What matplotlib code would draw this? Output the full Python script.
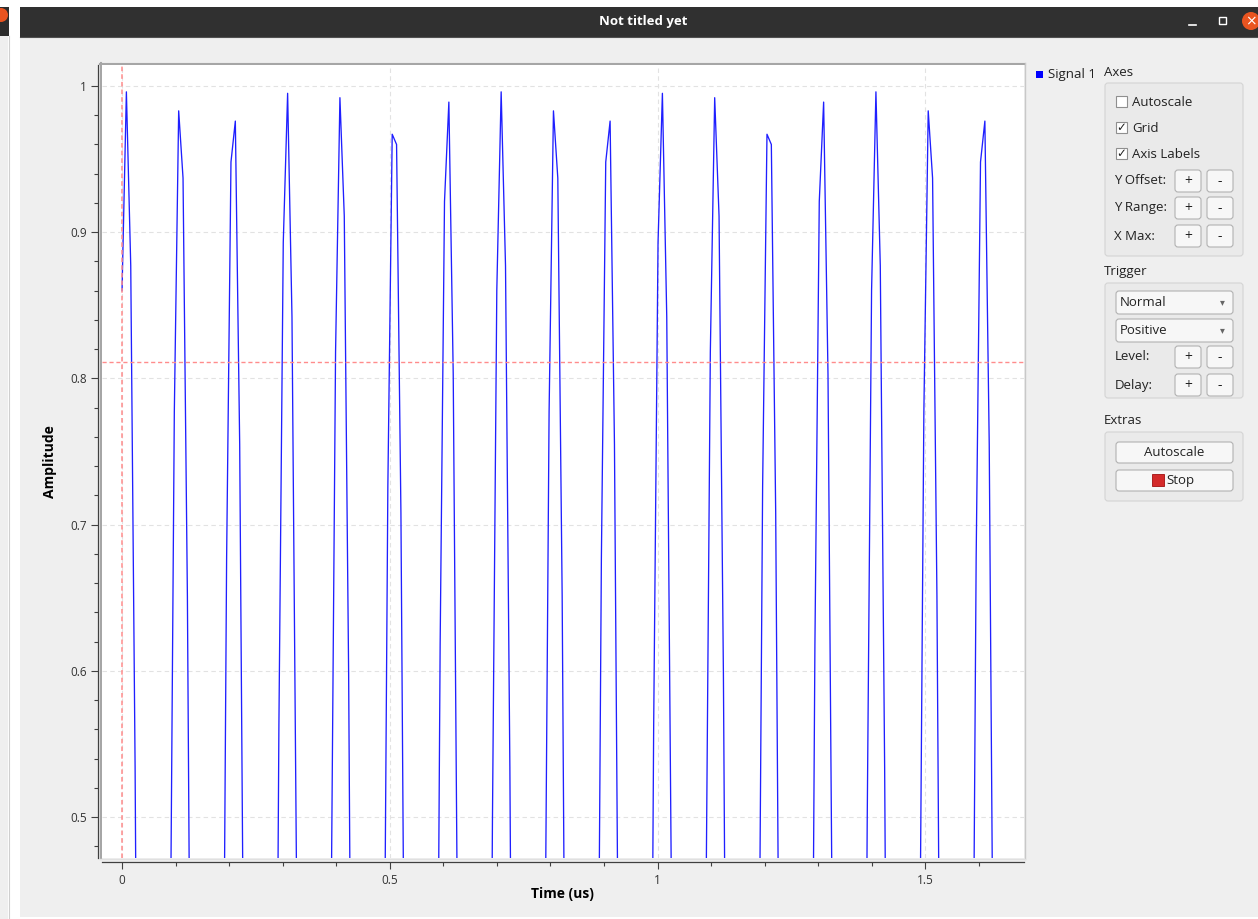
import numpy as np
import matplotlib
matplotlib.use('Agg')
import matplotlib.pyplot as plt
from matplotlib.patches import Rectangle, FancyBboxPatch, Circle
from matplotlib.ticker import MultipleLocator

plt.rcParams['font.family'] = ['Open Sans', 'DejaVu Sans']

# Signal 1 samples (fs = 122.88 MHz)
amp = [0.860, 0.996, 0.877, 0.534, 0.054, -0.440, -0.821, -0.992, -0.909, -0.594,
       -0.127, 0.373, 0.777, 0.983, 0.937, 0.651, 0.199, -0.304, -0.729, -0.968,
       -0.959, -0.705, -0.271, 0.233, 0.677, 0.948, 0.976, 0.755, 0.340, -0.161,
       -0.622, -0.923, -0.988, -0.801, -0.408, 0.089, 0.563, 0.893, 0.995, 0.842,
       0.474, -0.015, -0.501, -0.858, -0.996, -0.879, -0.537, -0.058, 0.436, 0.818,
       0.992, 0.911, 0.598, 0.131, -0.369, -0.775, -0.982, -0.938, -0.655, -0.203,
       0.300, 0.726, 0.967, 0.960, 0.708, 0.274, -0.229, -0.674, -0.947, -0.977,
       -0.757, -0.344, 0.157, 0.618, 0.921, 0.989, 0.803, 0.412, -0.085, -0.559,
       -0.891, -0.995, -0.844, -0.477, 0.011, 0.497,
       0.860, 0.996, 0.877, 0.534, 0.054, -0.440, -0.821, -0.992, -0.909, -0.594,
       -0.127, 0.373, 0.777, 0.983, 0.937, 0.651, 0.199, -0.304, -0.729, -0.968,
       -0.959, -0.705, -0.271, 0.233, 0.677, 0.948, 0.976, 0.755, 0.340, -0.161,
       -0.622, -0.923, -0.988, -0.801, -0.408, 0.089, 0.563, 0.893, 0.995, 0.842,
       0.474, -0.015, -0.501, -0.858, -0.996, -0.879, -0.537, -0.058, 0.436, 0.818,
       0.992, 0.911, 0.598, 0.131, -0.369, -0.775, -0.982, -0.938, -0.655, -0.203,
       0.300, 0.726, 0.967, 0.960, 0.708, 0.274, -0.229, -0.674, -0.947, -0.977,
       -0.757, -0.344, 0.157, 0.618, 0.921, 0.989, 0.803, 0.412, -0.085, -0.559,
       -0.891, -0.995, -0.844, -0.477, 0.011, 0.497,
       0.860, 0.996, 0.877, 0.534, 0.054, -0.440, -0.821, -0.992, -0.909, -0.594,
       -0.127, 0.373, 0.777, 0.983, 0.937, 0.651, 0.199, -0.304, -0.729, -0.968,
       -0.959, -0.705, -0.271, 0.233, 0.677, 0.948, 0.976, 0.755, 0.340, -0.161,
       -0.622, -0.923, -0.988, -0.801, -0.408]
fs = 122.88  # MHz
t = np.arange(len(amp)) / fs  # us

trig_level = 0.811
trig_delay = 0.0

xticks = [0, 0.5, 1, 1.5]
xticklabels = ['0', '0.5', '1', '1.5']
yticks = [0.5, 0.6, 0.7, 0.8, 0.9, 1.0]
yticklabels = ['0.5', '0.6', '0.7', '0.8', '0.9', '1']

W, H = 1258, 919
fig = plt.figure(figsize=(W / 100, H / 100), dpi=100)
fig.patch.set_facecolor('white')

# window chrome drawn in pixel coordinates
bg = fig.add_axes([0, 0, 1, 1], zorder=0)
bg.set_xlim(0, W)
bg.set_ylim(H, 0)
bg.axis('off')

bg.add_patch(Rectangle((20, 37), W - 20, 880, fc='#efefef', ec='none'))
bg.add_patch(Rectangle((0, 36), 8, H - 36, fc='#efefef', ec='none'))
bg.plot([8.5, 8.5], [36, H], color='#cfcfcf', lw=0.8)
bg.add_patch(Rectangle((0, 7), 9, 29, fc='#2d2d2d', ec='none'))
bg.add_patch(Circle((1, 15), 7, fc='#e95420', ec='none'))
bg.add_patch(Rectangle((20, 7), W - 20, 30, fc='#303030', ec='none'))
bg.plot([20, W], [36.5, 36.5], color='#505050', lw=0.8)
bg.text(643, 21, 'Not titled yet', color='white', fontsize=9.5, weight='bold',
        ha='center', va='center')
bg.plot([1189, 1196], [25, 25], color='white', lw=1.2)
bg.add_patch(Rectangle((1219, 17), 7, 7, fc='none', ec='white', lw=1.0))
bg.add_patch(Circle((1251, 21), 9, fc='#e95420', ec='none'))
bg.text(1251, 21, '×', color='white', fontsize=10, ha='center', va='center',
        family='DejaVu Sans')

# plot canvas frame
bg.plot([100.5, 100.5], [63, 859], color='#a6a6a6', lw=1.5)
bg.plot([100, 1025], [63.5, 63.5], color='#a6a6a6', lw=1.5)
bg.plot([1024.8, 1024.8], [63, 859], color='#c8c8c8', lw=1.0)
bg.plot([100, 1025], [858.8, 858.8], color='#e0e0e0', lw=1.0)

# legend
bg.add_patch(Rectangle((1036, 71), 7, 7, fc='#0000ff', ec='none'))
bg.text(1048, 74.5, 'Signal 1', fontsize=9.5, color='#222222', va='center')


def button(x0, y0, x1, y1, label=None, fsz=10):
    bg.add_patch(FancyBboxPatch((x0, y0), x1 - x0, y1 - y0,
                                boxstyle='round,pad=0,rounding_size=3',
                                fc='#f7f7f7', ec='#b2b2b2', lw=0.8))
    if label is not None:
        bg.text((x0 + x1) / 2, (y0 + y1) / 2 + 0.5, label, fontsize=fsz,
                color='#222222', ha='center', va='center')


def group(x0, y0, x1, y1):
    bg.add_patch(FancyBboxPatch((x0, y0), x1 - x0, y1 - y0,
                                boxstyle='round,pad=0,rounding_size=3',
                                fc='#eaeaea', ec='#d4d4d4', lw=0.8))


def label(x, y, s):
    bg.text(x, y, s, fontsize=9.5, color='#222222', va='center')


def checkbox(y, s, checked):
    bg.add_patch(Rectangle((1116, y - 6), 11, 11, fc='white', ec='#8f8f8f', lw=0.8))
    if checked:
        bg.text(1121.5, y, '✓', fontsize=8.5, color='#222222', ha='center',
                va='center', family='DejaVu Sans', weight='bold')
    label(1132, y, s)


label(1104, 72, 'Axes')
group(1105, 83, 1243, 256)
checkbox(102, 'Autoscale', False)
checkbox(128, 'Grid', True)
checkbox(154, 'Axis Labels', True)
for yy, s in [(181, 'Y Offset:'), (208, 'Y Range:'), (236, 'X Max:')]:
    label(1114, yy, s)
    button(1175, yy - 11, 1201, yy + 11, '+')
    button(1207, yy - 11, 1233, yy + 11, '-')

label(1104, 271, 'Trigger')
group(1105, 283, 1243, 398)
for yy, s in [(302.5, 'Normal'), (330.5, 'Positive')]:
    button(1116, yy - 11.5, 1233, yy + 11.5)
    label(1120, yy, s)
    bg.text(1222, yy, '▾', fontsize=7, color='#666666', ha='center', va='center',
            family='DejaVu Sans')
for yy, s in [(357, 'Level:'), (385, 'Delay:')]:
    label(1115, yy, s)
    button(1175, yy - 11, 1201, yy + 11, '+')
    button(1207, yy - 11, 1233, yy + 11, '-')

label(1104, 421, 'Extras')
group(1105, 432, 1243, 501)
button(1116, 442, 1233, 463, 'Autoscale', fsz=9.5)
button(1116, 470, 1233, 491)
bg.add_patch(Rectangle((1152, 474), 12, 12, fc='#d42a2a', ec='#a01010', lw=0.6))
label(1166, 480.5, 'Stop')

# the plot itself
x0, x1, y0, y1 = 102, 1024, 65, 858
ax = fig.add_axes([x0 / W, (H - y1) / H, (x1 - x0) / W, (y1 - y0) / H], zorder=1)
ax.set_facecolor('white')
ax.plot(t, amp, color='#1f1fff', lw=0.95)
ax.axvline(trig_delay, color='#ff8c8c', lw=1.1, dashes=(3, 2))
ax.axhline(trig_level, color='#ff8c8c', lw=1.0, dashes=(3, 2))

ax.set_xlim(-0.0374, 1.6844)
ax.set_ylim(0.47196, 1.01436)
ax.set_xticks(xticks)
ax.set_xticklabels(xticklabels)
ax.set_yticks(yticks)
ax.set_yticklabels(yticklabels)
ax.xaxis.set_minor_locator(MultipleLocator(0.1))
ax.yaxis.set_minor_locator(MultipleLocator(0.02))
ax.grid(True, which='major', color='#e2e2e2', linestyle=(0, (4, 3)), lw=0.8)
ax.set_axisbelow(True)

for side in ['top', 'right']:
    ax.spines[side].set_visible(False)
ax.spines['left'].set_position(('outward', 3.0))
ax.spines['bottom'].set_position(('outward', 3.2))
for side in ['left', 'bottom']:
    ax.spines[side].set_color('#404040')
    ax.spines[side].set_linewidth(0.9)

ax.tick_params(axis='both', which='major', length=5.0, width=0.8, color='#404040',
               labelsize=8.5, labelcolor='#333333', pad=3)
ax.tick_params(axis='both', which='minor', length=3.2, width=0.8, color='#404040')

ax.set_xlabel('Time (us)', fontsize=10, weight='bold', va='center')
ax.xaxis.set_label_coords(0.499, -0.0454)
ax.set_ylabel('Amplitude', fontsize=10, weight='bold', va='center')
ax.yaxis.set_label_coords(-0.0564, 0.5)

fig.savefig('out.png', dpi=100)
